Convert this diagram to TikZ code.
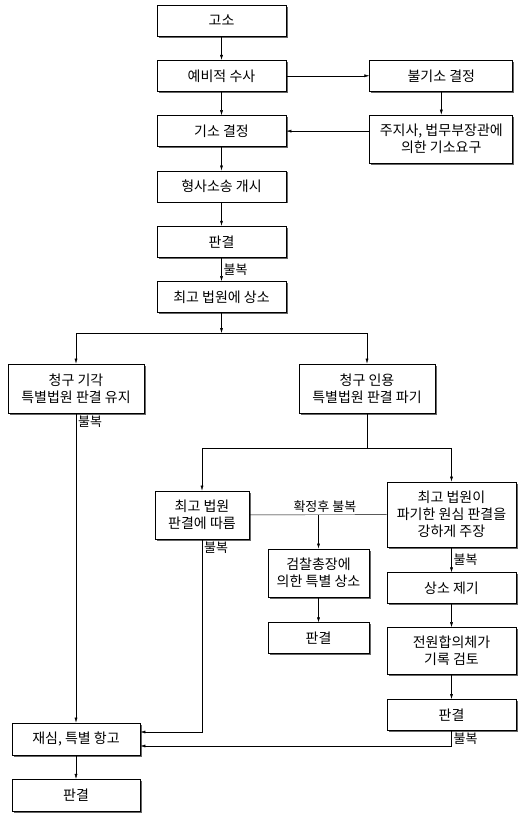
\documentclass[tikz,border=0pt]{standalone}
\usepackage{fontspec}
\setmainfont{Noto Sans CJK KR}
\usetikzlibrary{positioning,arrows.meta,shadows}
\begin{document}
\begin{tikzpicture}[x=1pt,y=-1pt,node distance=23.5pt and 83pt,
  >={Latex[length=5pt,width=3pt]},
  box/.style={draw,line width=0.8pt,fill=white,align=center,inner sep=0pt,
    minimum height=31pt,font=\fontsize{14}{17}\selectfont,
    drop shadow={shadow xshift=1.5pt,shadow yshift=-1.5pt,fill=black!60,opacity=1}},
  tag/.style={font=\fontsize{13}{15}\selectfont,inner sep=2pt}]
\useasboundingbox (0,0) rectangle (532,819);
% main column
\node[box,minimum width=129pt] (goso) at (221.5,20.5) {고소};
\node[box,minimum width=129pt] (yebi) [below=of goso] {예비적 수사};
\node[box,minimum width=129pt] (giso) [below=of yebi] {기소 결정};
\node[box,minimum width=129pt] (hyeong) [below=of giso] {형사소송 개시};
\node[box,minimum width=129pt] (pan1) [below=of hyeong] {판결};
\node[box,minimum width=129pt] (sangso) [below=of pan1] {최고 법원에 상소};
\node[box,minimum width=143pt] (bulgiso) [right=of yebi] {불기소 결정};
\node[box,minimum width=143pt,minimum height=48pt] (juji) [below=23pt of bulgiso] {주지사, 법무부장관에\\의한 기소요구};
% branches
\node[box,minimum width=136pt,minimum height=49pt] (gigak) at (76,388.5) {청구 기각\\특별법원 판결 유지};
\node[box,minimum width=136pt,minimum height=49pt] (inyong) at (367,388.5) {청구 인용\\특별법원 판결 파기};
\node[box,minimum width=94pt,minimum height=48pt] (ttareum) at (202,515) {최고 법원\\판결에 따름};
\node[box,minimum width=129pt,minimum height=65pt] (juchang) at (451.5,514.5) {최고 법원이\\파기한 원심 판결을\\강하게 주장};
\node[box,minimum width=101pt,minimum height=48pt] (geomchal) at (318.5,573) {검찰총장에\\의한 특별 상소};
\node[box,minimum width=101pt] (pan2) [below=25pt of geomchal] {판결};
\node[box,minimum width=129pt] (jegi) [below=25pt of juchang] {상소 제기};
\node[box,minimum width=129pt,minimum height=47pt] (jeonwon) [below=23pt of jegi] {전원합의체가\\기록 검토};
\node[box,minimum width=129pt] (pan3) [below=24pt of jeonwon] {판결};
\node[box,minimum width=128pt,minimum height=32pt] (jaesim) at (76,739) {재심, 특별 항고};
\node[box,minimum width=128pt,minimum height=32pt] (pan4) [below=of jaesim] {판결};
\coordinate (j1) at (221.5,333);
\coordinate (j2) at (367,448);
\coordinate (j3) at (geomchal.north |- ttareum);
\coordinate (in1) at ([yshift=7pt]jaesim.east);
\coordinate (in2) at ([yshift=-7pt]jaesim.east);
% connectors
\draw[->] (goso) -- (yebi);
\draw[->] (yebi) -- (giso);
\draw[->] (giso) -- (hyeong);
\draw[->] (hyeong) -- (pan1);
\draw[->] (pan1) -- node[tag,right]{불복} (sangso);
\draw[->] (yebi) -- (bulgiso);
\draw[->] (bulgiso) -- (juji);
\draw[->] (juji.west |- giso) -- (giso);
\draw[->] (sangso) -- (j1);
\draw[->] (j1) -| (gigak);
\draw[->] (j1) -| (inyong);
\draw (inyong) -- (j2);
\draw[->] (j2) -| (ttareum);
\draw[->] (j2) -| (juchang);
\draw (ttareum) -- node[tag,above,pos=0.55]{확정후 불복} (juchang);
\draw[->] (j3) -- (geomchal);
\draw[->] (geomchal) -- (pan2);
\draw[->] (juchang) -- node[tag,right]{불복} (jegi);
\draw[->] (jegi) -- (jeonwon);
\draw[->] (jeonwon) -- (pan3);
\draw[->] (gigak) -- node[tag,pos=0,below right]{불복} (jaesim);
\draw[->] (ttareum) |- node[tag,pos=0,below right]{불복} (in1);
\draw[->] (pan3) |- node[tag,pos=0,below right]{불복} (in2);
\draw[->] (jaesim) -- (pan4);
\end{tikzpicture}
\end{document}
